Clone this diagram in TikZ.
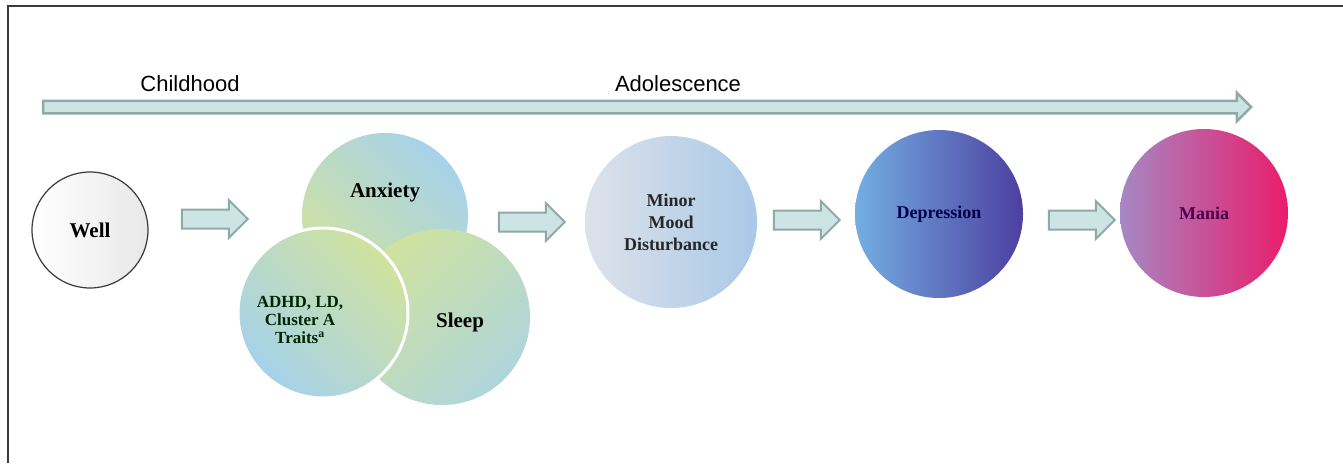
\documentclass[tikz,border=0pt]{standalone}
\usepackage{fontspec}
\setmainfont{Liberation Serif}
\setsansfont{Liberation Sans}
\usetikzlibrary{shapes.arrows}
\definecolor{arrowfill}{HTML}{CDE4E4}
\definecolor{arrowline}{HTML}{8FA9A6}
\definecolor{leaf}{HTML}{D0E29F}
\definecolor{sky}{HTML}{A6D2EA}
\definecolor{frameline}{HTML}{3A3A3A}
\definecolor{mistleft}{HTML}{DDE2EA}
\definecolor{mistright}{HTML}{A9C9E7}
\definecolor{depleft}{HTML}{74AEE2}
\definecolor{depmid}{HTML}{7A7CC6}
\definecolor{depright}{HTML}{4C3FA0}
\definecolor{manleft}{HTML}{A688C4}
\definecolor{manmid}{HTML}{C262AA}
\definecolor{manright}{HTML}{EA1C6C}

\begin{document}
\begin{tikzpicture}
[x=1pt,y=-1pt,%
  every node/.style={inner sep=0pt},%
  stage/.style={shape=circle,minimum size=168pt,align=center,%
    font=\fontsize{18}{22}\selectfont\bfseries},%
  bigtext/.style={font=\fontsize{21}{24}\selectfont\bfseries},%
  period/.style={font=\sffamily\fontsize{22}{26}\selectfont},%
  blockarrow/.style={shape=single arrow,draw=arrowline,fill=arrowfill,%
    line width=2pt,inner ysep=8.5pt,single arrow head extend=9.5pt,%
    minimum height=66pt}]
\useasboundingbox (0,0) rectangle (1343,463);
%% frame
\draw[frameline,line width=1.5pt] (8,463) -- (8,6) -- (1343,6);
%% time line
\node[blockarrow,line width=2.5pt,inner ysep=5pt,single arrow head extend=8pt,%
  minimum height=1208pt] (life) at (644,107) {};
\node[period] (child) at (190,84) {Childhood};
\node[period] (adol) at (678,84) {Adolescence};
%% stages
\node[stage,bigtext,minimum size=116pt,draw=frameline,line width=1.2pt,%
  left color=white,right color=black!9] (well) at (90,230) {Well};
\node[stage,minimum size=166pt,top color=sky,middle color=leaf,bottom color=leaf,%
  shading angle=-45,label={[yshift=24pt,bigtext]center:Anxiety}] (anx) at (385,216) {};
\node[stage,minimum size=176pt,top color=leaf,middle color=leaf!80!sky,bottom color=sky!80!leaf,%
  shading angle=45,label={[xshift=18pt,yshift=-5pt,bigtext]center:Sleep}] (sleep) at (442,317) {};
\node[stage,minimum size=170pt,draw=white,line width=3pt,top color=leaf,middle color=leaf,%
  bottom color=sky,shading angle=-45,%
  label={[xshift=-23pt,yshift=-7pt,align=center,text=black!85!green,%
    font=\fontsize{17}{18}\selectfont\bfseries]center:ADHD, LD,\\Cluster A\\Traits\textsuperscript{a}}] (adhd) at (323,313) {};
\node[stage,minimum size=172pt,left color=mistleft,right color=mistright,%
  text=black!85] (minor) at (671,222) {Minor\\Mood\\Disturbance};
\node[stage,left color=depleft,middle color=depmid,right color=depright,%
  text=blue!30!black] (dep) at (939,214) {Depression};
\node[stage,left color=manleft,middle color=manmid,right color=manright,%
  text=violet!60!black] (mania) at (1204,213) {Mania};
%% steps
\node[blockarrow] (a1) at (210,219) {};
\node[blockarrow] (a2) at (527,222) {};
\node[blockarrow] (a3) at (802,220) {};
\node[blockarrow] (a4) at (1077,220) {};
\end{tikzpicture}
\end{document}
